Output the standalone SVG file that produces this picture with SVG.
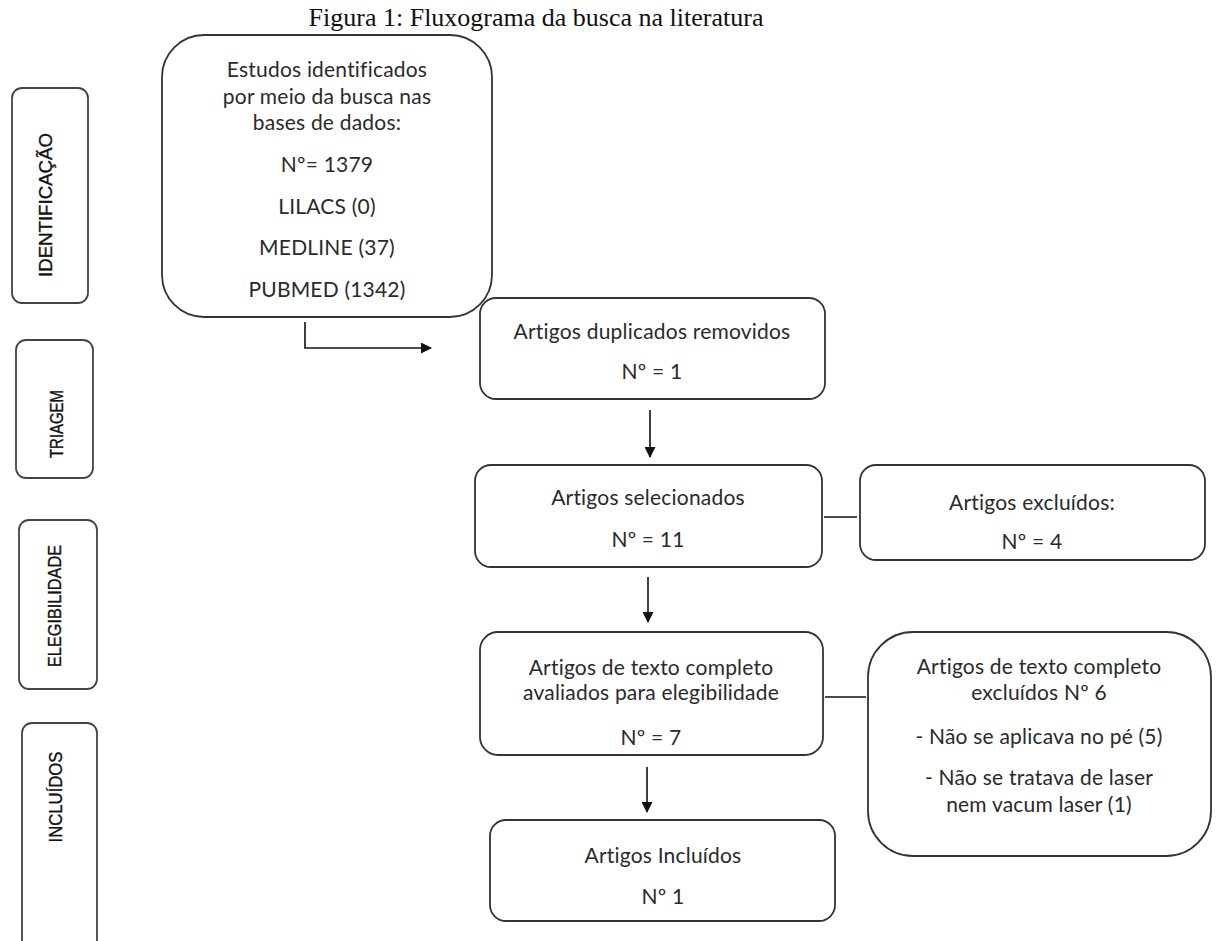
<svg xmlns="http://www.w3.org/2000/svg" width="1219" height="941" viewBox="0 0 1219 941">
<style>
.box{fill:#fff;stroke:#333;stroke-width:1.8}
.side{fill:#fff;stroke:#444;stroke-width:1.8}
.t{font-family:Lato,"Liberation Sans",sans-serif;font-size:21px;letter-spacing:0.2px;fill:#2a2a2a;text-anchor:middle}
.s{font-family:"Liberation Sans Narrow","Liberation Sans",sans-serif;font-size:18px;fill:#111;stroke:#111;stroke-width:0.35;text-anchor:middle}
.c{stroke:#111;stroke-width:1.6;fill:none}
</style>
<defs>
<marker id="ah" markerWidth="11" markerHeight="11" refX="10" refY="5.5" orient="auto" markerUnits="userSpaceOnUse">
<path d="M0,0 L11,5.5 L0,11 z" fill="#111"/>
</marker>
</defs>
<rect width="1219" height="941" fill="#fff"/>
<text x="536" y="26" style="font-family:'Liberation Serif',serif;font-size:26px;fill:#111" text-anchor="middle">Figura 1: Fluxograma da busca na literatura</text>

<g id="side-identificacao">
<rect class="side" x="12" y="88" width="76" height="215" rx="10"/>
<text class="s" transform="translate(52,205) rotate(-90)" textLength="144" lengthAdjust="spacingAndGlyphs">IDENTIFICAÇÃO</text>
</g>
<g id="side-triagem">
<rect class="side" x="16" y="340" width="77" height="138" rx="10"/>
<text class="s" transform="translate(63,424) rotate(-90)" textLength="68" lengthAdjust="spacingAndGlyphs">TRIAGEM</text>
</g>
<g id="side-elegibilidade">
<rect class="side" x="19" y="520" width="78" height="169" rx="10"/>
<text class="s" transform="translate(61,606) rotate(-90)" textLength="122" lengthAdjust="spacingAndGlyphs">ELEGIBILIDADE</text>
</g>
<g id="side-incluidos">
<rect class="side" x="22" y="723" width="75" height="240" rx="10"/>
<text class="s" transform="translate(62,797) rotate(-90)" textLength="91" lengthAdjust="spacingAndGlyphs">INCLUÍDOS</text>
</g>

<g id="n1">
<rect class="box" x="162" y="35" width="330" height="282" rx="42"/>
<text class="t" x="327" y="77">Estudos identificados</text>
<text class="t" x="327" y="104">por meio da busca nas</text>
<text class="t" x="327" y="130">bases de dados:</text>
<text class="t" x="327" y="172">Nº= 1379</text>
<text class="t" x="327" y="214">LILACS (0)</text>
<text class="t" x="327" y="255">MEDLINE (37)</text>
<text class="t" x="327" y="297">PUBMED (1342)</text>
</g>
<g id="n2">
<rect class="box" x="480" y="298" width="345" height="101" rx="16"/>
<text class="t" x="652" y="339">Artigos duplicados removidos</text>
<text class="t" x="652" y="379">Nº = 1</text>
</g>
<g id="n3">
<rect class="box" x="475" y="465" width="347" height="102" rx="16"/>
<text class="t" x="648" y="505">Artigos selecionados</text>
<text class="t" x="648" y="547">Nº = 11</text>
</g>
<g id="n4">
<rect class="box" x="860" y="465" width="345" height="95" rx="16"/>
<text class="t" x="1032" y="510">Artigos excluídos:</text>
<text class="t" x="1032" y="549">Nº = 4</text>
</g>
<g id="n5">
<rect class="box" x="480" y="632" width="343" height="123" rx="18"/>
<text class="t" x="651" y="675">Artigos de texto completo</text>
<text class="t" x="651" y="700">avaliados para elegibilidade</text>
<text class="t" x="651" y="745">Nº = 7</text>
</g>
<g id="n6">
<rect class="box" x="868" y="632" width="343" height="224" rx="45"/>
<text class="t" x="1039" y="674">Artigos de texto completo</text>
<text class="t" x="1039" y="700">excluídos Nº 6</text>
<text class="t" x="1039" y="744">- Não se aplicava no pé (5)</text>
<text class="t" x="1039" y="785">- Não se tratava de laser</text>
<text class="t" x="1039" y="812">nem vacum laser (1)</text>
</g>
<g id="n7">
<rect class="box" x="490" y="820" width="345" height="101" rx="16"/>
<text class="t" x="663" y="863">Artigos Incluídos</text>
<text class="t" x="663" y="904">Nº 1</text>
</g>

<g id="connectors">
<path class="c" d="M305,322 V348 H431" marker-end="url(#ah)"/>
<path class="c" d="M650,410 V457" marker-end="url(#ah)"/>
<path class="c" d="M648,577 V622" marker-end="url(#ah)"/>
<path class="c" d="M647,767 V812" marker-end="url(#ah)"/>
<path class="c" d="M824,517 H857"/>
<path class="c" d="M825,697 H866"/>
</g>
</svg>
